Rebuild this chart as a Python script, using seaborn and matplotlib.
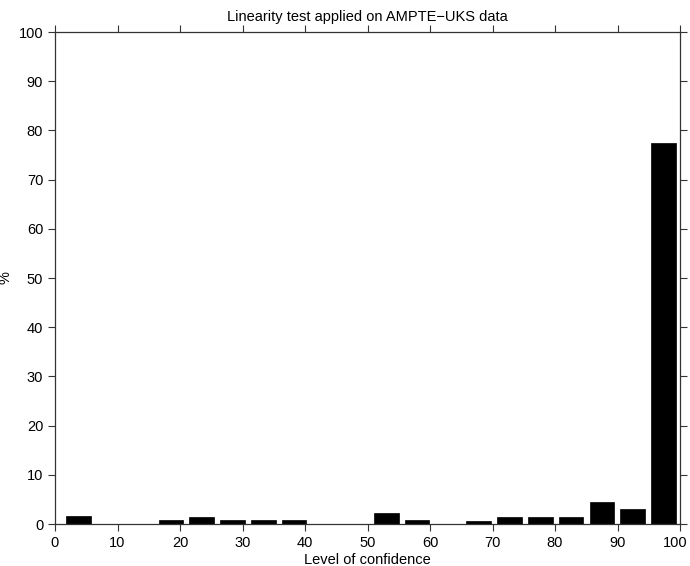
import matplotlib
matplotlib.use("Agg")
import matplotlib.pyplot as plt
import matplotlib.transforms as mtransforms
import seaborn as sns
import pandas as pd

# Histogram bin centers (level of confidence) and percentages
bin_centers = [3.76, 8.69, 13.61, 18.54, 23.46, 28.39, 33.32, 38.24, 43.17, 48.10,
               53.02, 57.95, 62.87, 67.80, 72.73, 77.65, 82.58, 87.50, 92.43, 97.35]
percent = [1.6, 0.0, 0.0, 0.75, 1.5, 0.75, 0.75, 0.75, 0.0, 0.0,
           2.2, 0.75, 0.0, 0.7, 1.45, 1.45, 1.45, 4.45, 3.0, 77.5]
xticks = list(range(0, 101, 10))
yticks = list(range(0, 101, 10))
title = "Linearity test applied on AMPTE\u2212UKS data"

sns.set_style("ticks")
plt.rcParams["font.family"] = ["Liberation Sans", "DejaVu Sans"]
plt.rcParams["text.color"] = "black"
plt.rcParams["axes.labelcolor"] = "black"
plt.rcParams["xtick.color"] = "black"
plt.rcParams["ytick.color"] = "black"

df = pd.DataFrame({"x": bin_centers, "y": percent})

fig = plt.figure(figsize=(6.9, 5.66), dpi=100)
ax = fig.add_axes([55/690, 1-524/566, (680-55)/690, (524-32)/566])

sns.barplot(data=df, x="x", y="y", native_scale=True, color="black",
            width=0.8, edgecolor="black", linewidth=0.5, saturation=1, ax=ax,
            errorbar=None)

ax.set_xlim(0, 100)
ax.set_ylim(0, 100)
ax.set_xticks(xticks)
ax.set_yticks(yticks)
ax.tick_params(axis="both", which="both", direction="out", length=5, width=0.8,
               labelsize=10.5, top=True, right=True, color="#333333",
               labelcolor="black")
for s in ax.spines.values():
    s.set_visible(True)
    s.set_linewidth(0.9)
    s.set_color("#333333")

# nudge the last x tick label so it stays inside the figure
last = ax.get_xticklabels()[-1]
last.set_transform(last.get_transform() +
                   mtransforms.ScaledTranslation(-5/100, 0, fig.dpi_scale_trans))

ax.set_title(title, fontsize=10.5, pad=8)
ax.set_xlabel("Level of confidence", fontsize=10.5, labelpad=2)
ax.set_ylabel("%", fontsize=10.5)
ax.yaxis.set_label_coords(-0.068, 0.5)

fig.savefig("out.png", dpi=100)
